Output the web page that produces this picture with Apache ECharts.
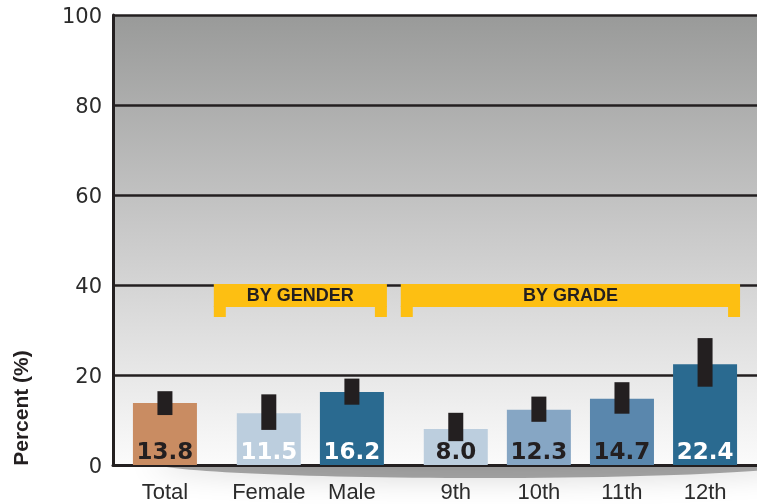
<!DOCTYPE html>
<html><head><meta charset="utf-8">
<script src="https://cdn.jsdelivr.net/npm/echarts@6/dist/echarts.min.js"></script>
<style>html,body{margin:0;padding:0;background:#fff}#main{width:757px;height:504px}</style>
</head><body><div id="main"></div>
<script>
// ---- data ----
const groups = [['Total'], ['Female', 'Male'], ['9th', '10th', '11th', '12th']];
const groupTitles = [null, 'BY GENDER', 'BY GRADE'];
const values = [13.8, 11.5, 16.2, 8.0, 12.3, 14.7, 22.4];
const ciLow = [11.1, 7.8, 13.4, 5.3, 9.6, 11.4, 17.4];
const ciHigh = [16.4, 15.7, 19.2, 11.6, 15.2, 18.4, 28.2];
const yTicks = [0, 20, 40, 60, 80, 100];
const yTitle = 'Percent (%)';

// ---- styles ----
const barColors = ['#c98c62', '#bccede', '#2a6a90', '#bccede', '#86a6c4', '#5a87ad', '#2a6a90'];
const labelColors = ['#231f20', '#ffffff', '#ffffff', '#231f20', '#231f20', '#231f20', '#ffffff'];
const DARK = '#231f20';
const YELLOW = '#fdbf12';

// ---- layout of category slots ----
const cats = [];
const barData = [];
const errData = [];
const groupIdx = [];
let k = 0;
function pushBlank() { cats.push(''); barData.push('-'); }
pushBlank(); pushBlank();
groups.forEach((g, gi) => {
  if (gi > 0) pushBlank();
  const idxs = [];
  g.forEach((name, j) => {
    const idx = cats.length;
    idxs.push(idx);
    cats.push(name);
    barData.push({
      value: values[k],
      itemStyle: { color: barColors[k] },
      label: { color: labelColors[k] }
    });
    errData.push([idx, ciLow[k], ciHigh[k]]);
    const last = gi === groups.length - 1 && j === g.length - 1;
    const n = last ? 2 : 3;
    for (let t = 0; t < n; t++) pushBlank();
    k++;
  });
  groupIdx.push(idxs);
});

const BAR_W = 64;
const chart = echarts.init(document.getElementById('main'));
chart.setOption({
  animation: false,
  backgroundColor: '#ffffff',
  grid: {
    left: 113, top: 15, right: 0, bottom: 38, show: true, borderWidth: 0,
    backgroundColor: new echarts.graphic.LinearGradient(0, 0, 0, 1, [
      { offset: 0, color: '#999a99' },
      { offset: 0.5, color: '#cbcbcb' },
      { offset: 1, color: '#fbfbfb' }
    ])
  },
  xAxis: {
    type: 'category', data: cats,
    axisLine: { lineStyle: { color: DARK, width: 3 } },
    axisTick: { show: false },
    splitLine: { show: false },
    axisLabel: { interval: 0, margin: 17, fontFamily: 'Liberation Sans', fontSize: 22, color: '#2b2b2b' }
  },
  yAxis: {
    type: 'value', min: yTicks[0], max: yTicks[yTicks.length - 1], interval: yTicks[1] - yTicks[0],
    axisLine: { show: true, lineStyle: { color: DARK, width: 3 } },
    axisTick: { show: false },
    axisLabel: { margin: 11, fontFamily: 'DejaVu Sans', fontSize: 21, color: '#2b2b2b', verticalAlign: 'top', lineHeight: 6 },
    splitLine: { lineStyle: { color: DARK, width: 2.5 } }
  },
  series: [{
    type: 'bar', data: barData, barWidth: BAR_W, z: 2,
    label: {
      show: true, position: 'insideBottom', distance: 0,
      fontFamily: 'DejaVu Sans', fontWeight: 'bold', fontSize: 23,
      formatter: p => Number(p.value).toFixed(1)
    }
  }, {
    type: 'custom', data: errData, z: 3,
    renderItem: (params, api) => {
      const p1 = api.coord([api.value(0), api.value(2)]);
      const p2 = api.coord([api.value(0), api.value(1)]);
      return { type: 'rect', shape: { x: p1[0] - 7.5, y: p1[1], width: 15, height: p2[1] - p1[1] }, style: { fill: DARK } };
    }
  }]
});

// ---- annotations ----
const g = [];
const yTop = chart.convertToPixel({ yAxisIndex: 0 }, 40) - 1;
groupIdx.forEach((idxs, gi) => {
  const title = groupTitles[gi];
  if (!title) return;
  const L = chart.convertToPixel({ xAxisIndex: 0 }, idxs[0]) - BAR_W / 2 - 23;
  const R = chart.convertToPixel({ xAxisIndex: 0 }, idxs[idxs.length - 1]) + BAR_W / 2 + 3;
  g.push({ type: 'rect', z: 10, shape: { x: L, y: yTop, width: R - L, height: 23 }, style: { fill: YELLOW } });
  g.push({ type: 'rect', z: 10, shape: { x: L, y: yTop + 22, width: 12, height: 11 }, style: { fill: YELLOW } });
  g.push({ type: 'rect', z: 10, shape: { x: R - 12, y: yTop + 22, width: 12, height: 11 }, style: { fill: YELLOW } });
  g.push({ type: 'text', z: 11, x: (L + R) / 2, y: yTop + 12, style: { text: title, align: 'center', verticalAlign: 'middle', font: 'bold 18px "Liberation Sans"', fill: DARK } });
});
g.push({ type: 'text', z: 11, x: 22, y: 408, rotation: Math.PI / 2, style: { text: yTitle, align: 'center', verticalAlign: 'middle', font: 'bold 21px "Liberation Sans"', fill: DARK } });
g.push({ type: 'ellipse', z: -10, shape: { cx: 480, cy: 462, rx: 330, ry: 16 }, style: { fill: 'rgba(0,0,0,0.32)', shadowBlur: 30, shadowColor: 'rgba(0,0,0,0.5)' } });
chart.setOption({ graphic: g });
</script>
</body></html>
